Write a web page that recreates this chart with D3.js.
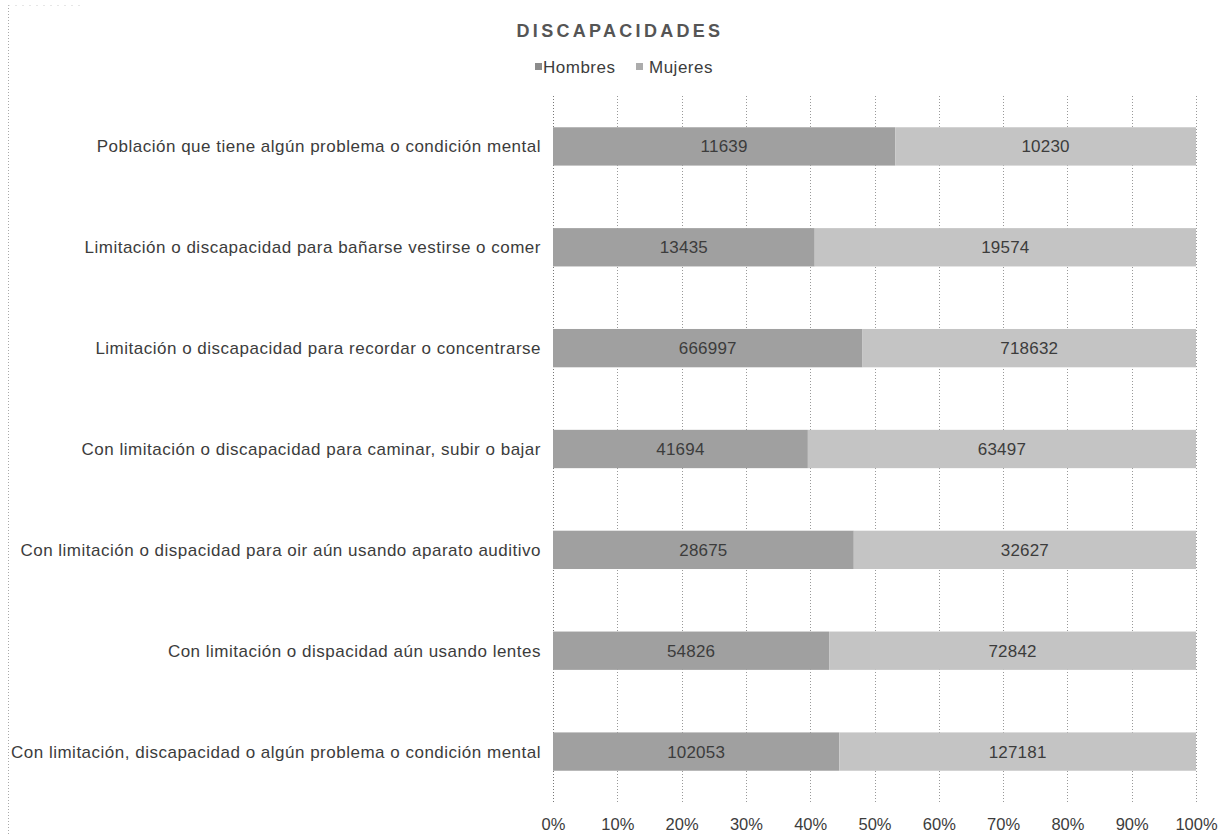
<!DOCTYPE html>
<html>
<head>
<meta charset="utf-8">
<script src="https://cdn.jsdelivr.net/npm/d3@7"></script>
<style>
  body { margin: 0; background: #fff; }
  svg { display: block; font-family: "Liberation Sans", Arial, sans-serif; }
</style>
</head>
<body>
<svg id="chart" width="1221" height="834"></svg>
<script>
const categories = [
  "Población que tiene algún problema o condición mental",
  "Limitación o discapacidad para bañarse vestirse o comer",
  "Limitación o discapacidad para recordar o concentrarse",
  "Con limitación o discapacidad para caminar, subir o bajar",
  "Con limitación o dispacidad para oir aún usando aparato auditivo",
  "Con limitación o dispacidad aún usando lentes",
  "Con limitación, discapacidad o algún problema o condición mental"
];
const hombres = [11639, 13435, 666997, 41694, 28675, 54826, 102053];
const mujeres = [10230, 19574, 718632, 63497, 32627, 72842, 127181];
const seriesNames = ["Hombres", "Mujeres"];
const seriesColors = ["#a0a0a0", "#c4c4c4"];
const legendColors = ["#8c8c8c", "#acacac"];
const tickValues = [0, 0.1, 0.2, 0.3, 0.4, 0.5, 0.6, 0.7, 0.8, 0.9, 1.0];
const titleText = "DISCAPACIDADES";

const svg = d3.select("#chart");
const W = 1221, H = 834;
const m = { left: 553, right: 25, top: 96, bottom: 31 };
const textColor = "#3c3c3c";

// partial chart border (left and top edge, dotted)
svg.append("line").attr("x1", 8.5).attr("x2", 8.5).attr("y1", 5).attr("y2", H)
  .attr("stroke", "#aaa").attr("stroke-dasharray", "1,2");
svg.append("line").attr("x1", 8.5).attr("x2", 80).attr("y1", 5.5).attr("y2", 5.5)
  .attr("stroke", "#ccc").attr("stroke-dasharray", "1,6");

const x = d3.scaleLinear().domain([0, 1]).range([m.left, W - m.right]);
const y = d3.scaleBand().domain(categories).range([m.top, 802]).paddingInner(0.62).paddingOuter(0.31);

// gridlines
svg.append("g").selectAll("line").data(tickValues).join("line")
  .attr("x1", d => Math.round(x(d)) + 0.5).attr("x2", d => Math.round(x(d)) + 0.5)
  .attr("y1", m.top).attr("y2", 802)
  .attr("stroke", d => d === 0 ? "#777" : "#999")
  .attr("stroke-dasharray", "1,2");

const stackData = categories.map((c, i) => {
  const tot = hombres[i] + mujeres[i];
  return { cat: c, Hombres: hombres[i] / tot, Mujeres: mujeres[i] / tot, raw: [hombres[i], mujeres[i]] };
});
const stack = d3.stack().keys(seriesNames)(stackData);

stack.forEach((layer, si) => {
  const g = svg.append("g");
  g.selectAll("rect").data(layer).join("rect")
    .attr("x", d => x(d[0])).attr("width", d => x(d[1]) - x(d[0]))
    .attr("y", d => y(d.data.cat)).attr("height", y.bandwidth())
    .attr("fill", seriesColors[si]);
  g.selectAll("text").data(layer).join("text")
    .attr("x", d => (x(d[0]) + x(d[1])) / 2)
    .attr("y", d => y(d.data.cat) + y.bandwidth() / 2)
    .attr("dy", "0.35em").attr("text-anchor", "middle")
    .attr("font-size", 17).attr("letter-spacing", "0.2px").attr("fill", textColor)
    .text(d => d.data.raw[si]);
});

// category labels
svg.append("g").selectAll("text").data(categories).join("text")
  .attr("x", 541).attr("y", d => y(d) + y.bandwidth() / 2)
  .attr("dy", "0.35em").attr("text-anchor", "end")
  .attr("font-size", 17).attr("letter-spacing", "0.5px").attr("fill", textColor).text(d => d);

// x axis labels
const xAxis = d3.axisBottom(x).tickValues(tickValues).tickFormat(d3.format(".0%")).tickSize(0).tickPadding(0);
const ax = svg.append("g").attr("transform", `translate(0,830)`).call(xAxis);
ax.select(".domain").remove();
ax.selectAll("text").attr("font-size", 16.5).attr("fill", textColor)
  .attr("font-family", "Liberation Sans, Arial, sans-serif").attr("dy", "0").attr("y", 0);

// title
svg.append("text").attr("x", 620).attr("y", 37).attr("text-anchor", "middle")
  .attr("font-size", 18).attr("font-weight", "bold").attr("letter-spacing", "3.3px")
  .attr("fill", "#555").text(titleText);

// legend
const legX = [535, 636];
const lg = svg.append("g");
seriesNames.forEach((s, i) => {
  lg.append("rect").attr("x", legX[i]).attr("y", 63).attr("width", 7).attr("height", 7).attr("fill", legendColors[i]);
  lg.append("text").attr("x", legX[i] + (i === 0 ? 8 : 13)).attr("y", 67).attr("dy", "0.35em")
    .attr("font-size", 17).attr("letter-spacing", "0.5px").attr("fill", textColor).text(s);
});
</script>
</body>
</html>
